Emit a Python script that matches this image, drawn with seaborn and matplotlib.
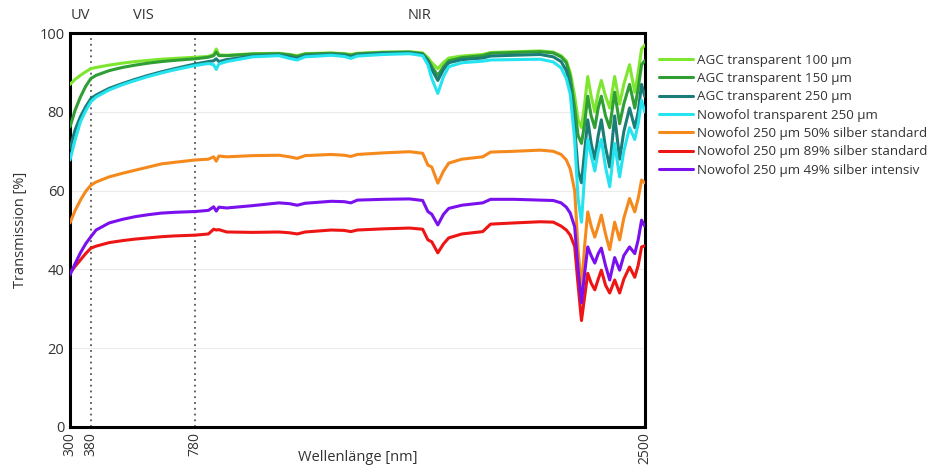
import numpy as np
import pandas as pd
import matplotlib
matplotlib.use("Agg")
import matplotlib.pyplot as plt
import seaborn as sns

# Wavelength grid [nm]
wavelength = [300, 320, 340, 360, 380, 400, 450, 500, 550, 600, 650, 700, 780, 830, 850,
              860, 870, 900, 1000, 1100, 1140, 1170, 1200, 1300, 1350, 1375, 1400, 1500, 1600, 1650,
              1670, 1685, 1708, 1730, 1750, 1800, 1880, 1910, 2000, 2100, 2150, 2180, 2200, 2215, 2232,
              2245, 2258, 2270, 2282, 2295, 2309, 2322, 2334, 2350, 2366, 2385, 2404, 2420, 2442, 2462,
              2475, 2488, 2500]

agc_100 = [87.0, 88.3, 89.3, 90.2, 91.0, 91.3, 91.9, 92.4, 92.8, 93.1, 93.4, 93.6, 93.9, 94.1, 94.6,
           96.0, 94.5, 94.4, 94.8, 94.9, 94.6, 94.3, 94.8, 95.0, 94.8, 94.6, 94.9, 95.2, 95.3, 95.0,
           93.8, 92.5, 91.0, 92.6, 93.7, 94.2, 94.6, 95.1, 95.3, 95.5, 95.2, 94.3, 93.0, 90.0, 84.0,
           78.0, 76.0, 82.0, 89.0, 84.0, 80.0, 85.0, 88.0, 84.0, 81.0, 89.0, 82.0, 87.0, 92.0, 85.0,
           90.0, 96.0, 97.0]

agc_150 = [76.2, 80.5, 83.8, 86.5, 88.5, 89.3, 90.5, 91.3, 91.9, 92.4, 92.8, 93.1, 93.5, 93.9, 94.3,
           95.2, 94.3, 94.3, 94.7, 94.8, 94.5, 94.1, 94.7, 94.9, 94.7, 94.4, 94.8, 95.1, 95.2, 94.8,
           93.2, 91.5, 89.3, 91.5, 93.0, 93.8, 94.3, 94.9, 95.1, 95.3, 95.0, 94.0, 92.5, 89.0, 81.0,
           74.0, 72.0, 77.0, 84.0, 79.0, 76.0, 81.0, 84.0, 79.0, 76.0, 85.0, 77.0, 82.0, 87.0, 81.0,
           86.0, 92.0, 93.0]

agc_250 = [70.8, 75.5, 78.8, 81.3, 83.4, 84.3, 86.0, 87.2, 88.3, 89.3, 90.2, 91.0, 92.2, 92.8, 93.0,
           93.5, 92.8, 93.3, 94.2, 94.5, 94.0, 93.6, 94.3, 94.6, 94.4, 94.0, 94.5, 94.9, 95.0, 94.6,
           93.0, 90.8, 88.0, 90.8, 92.5, 93.3, 93.7, 94.2, 94.4, 94.6, 94.0, 92.8, 90.5, 86.5, 76.0,
           65.0, 62.0, 70.0, 78.0, 72.0, 68.0, 74.0, 78.0, 71.0, 66.0, 79.0, 68.0, 75.0, 81.0, 76.0,
           80.0, 87.0, 84.0]

nowofol_transparent = [67.8, 73.0, 77.5, 80.3, 82.6, 83.8, 85.6, 86.9, 88.0, 89.0, 89.9, 90.7, 91.8, 92.3, 92.0,
                       90.8, 92.2, 92.8, 94.0, 94.3, 93.6, 93.2, 94.0, 94.4, 94.1, 93.6, 94.2, 94.6, 94.8, 94.3,
                       92.0, 88.5, 84.7, 89.0, 91.5, 92.5, 92.9, 93.2, 93.3, 93.4, 92.7, 91.2, 88.5, 84.5, 72.8,
                       58.0, 52.0, 64.0, 73.0, 69.0, 65.0, 70.0, 73.0, 66.0, 61.0, 72.0, 63.5, 70.0, 76.0, 73.0,
                       77.0, 83.0, 80.0]

silber_50_std = [51.8, 55.0, 57.6, 59.8, 61.4, 62.2, 63.5, 64.4, 65.2, 66.0, 66.8, 67.2, 67.8, 68.0, 68.6,
                 67.5, 68.8, 68.6, 68.9, 69.0, 68.6, 68.2, 68.9, 69.2, 69.0, 68.7, 69.2, 69.6, 69.9, 69.5,
                 66.5, 66.0, 61.9, 65.0, 67.0, 68.0, 68.6, 69.8, 70.0, 70.3, 70.0, 69.2, 67.8, 65.5, 60.0,
                 45.0, 35.0, 46.0, 54.6, 51.0, 48.2, 51.0, 53.8, 49.0, 45.0, 52.0, 47.5, 53.0, 58.0, 54.6,
                 58.0, 62.7, 62.0]

silber_89_std = [39.1, 40.8, 42.4, 44.0, 45.4, 45.9, 46.8, 47.3, 47.7, 48.0, 48.3, 48.5, 48.7, 49.0, 50.2,
                 50.0, 50.1, 49.5, 49.4, 49.5, 49.3, 49.0, 49.5, 50.0, 49.9, 49.6, 50.0, 50.3, 50.5, 50.2,
                 47.5, 47.0, 44.2, 46.5, 48.0, 49.0, 49.6, 51.5, 51.8, 52.1, 52.0, 51.0, 50.0, 48.7, 45.8,
                 36.0, 27.0, 33.0, 39.0, 36.5, 34.8, 37.5, 39.8, 36.0, 34.0, 37.3, 34.0, 37.5, 40.6, 38.0,
                 41.0, 45.7, 46.0]

silber_49_int = [38.6, 41.5, 44.2, 46.5, 48.3, 50.0, 51.8, 52.7, 53.4, 53.9, 54.3, 54.5, 54.7, 55.0, 55.9,
                 54.8, 55.8, 55.6, 56.2, 56.9, 56.7, 56.3, 56.8, 57.3, 57.2, 56.9, 57.6, 57.8, 57.9, 57.5,
                 54.7, 54.0, 51.3, 54.0, 55.5, 56.3, 56.9, 57.8, 57.8, 57.6, 57.5, 56.9, 55.8, 54.3, 50.8,
                 40.0, 31.5, 39.0, 45.7, 43.5, 41.6, 44.0, 45.4, 41.0, 37.3, 43.0, 39.8, 43.5, 45.7, 44.0,
                 47.5, 52.5, 51.0]

series_names = ["AGC transparent 100 µm", "AGC transparent 150 µm", "AGC transparent 250 µm",
                "Nowofol transparent 250 µm", "Nowofol 250 µm 50% silber standard",
                "Nowofol 250 µm 89% silber standard", "Nowofol 250 µm 49% silber intensiv"]
series_values = [agc_100, agc_150, agc_250, nowofol_transparent,
                 silber_50_std, silber_89_std, silber_49_int]
colors = ["#7ee62e", "#2f9e35", "#1b7d78", "#25e3ef", "#f5891c", "#ee1515", "#7a10ee"]

x_ticks = [300, 380, 780, 2500]
y_ticks = [0, 20, 40, 60, 80, 100]
region_labels = ["UV", "VIS", "NIR"]
region_pos = [340, 580, 1640]
region_bounds = [380, 780]

frames = [pd.DataFrame({"Wellenlänge": wavelength, "Transmission": v, "Probe": n})
          for n, v in zip(series_names, series_values)]
df = pd.concat(frames, ignore_index=True)

sns.set_style("white")
plt.rcParams["font.family"] = ["Open Sans", "DejaVu Sans"]

fig = plt.figure(figsize=(9.33, 4.68), dpi=100)
ax = fig.add_axes([0.075, 0.088, 0.616, 0.841])

for yv in y_ticks[1:-1]:
    ax.axhline(yv, color="#ebebeb", lw=0.8, zorder=0)
for xv in region_bounds:
    ax.axvline(xv, color="#555555", lw=1.3, ls=(0, (1, 2.2)), zorder=1)

sns.lineplot(data=df, x="Wellenlänge", y="Transmission", hue="Probe",
             hue_order=series_names, palette=colors, linewidth=2.2,
             sort=False, ax=ax, zorder=3)

ax.set_xlim(300, 2500)
ax.set_ylim(0, 100)
ax.set_xticks(x_ticks)
ax.set_xticklabels([str(t) for t in x_ticks], rotation=90, fontsize=10, color="#333333")
ax.set_yticks(y_ticks)
ax.set_yticklabels([str(t) for t in y_ticks], fontsize=10.5, color="#333333")
ax.tick_params(axis="both", length=0, pad=4)
ax.set_xlabel("Wellenlänge [nm]", fontsize=10.5, color="#333333")
ax.set_ylabel("Transmission [%]", fontsize=10.5, color="#333333", labelpad=8)
ax.xaxis.set_label_coords(0.5, -0.06)

for sp in ax.spines.values():
    sp.set_visible(True)
    sp.set_color("black")
    sp.set_linewidth(2.2)

for lbl, xp in zip(region_labels, region_pos):
    ax.text(xp, 102.5, lbl, ha="center", va="bottom", fontsize=10.5, color="#333333")

leg = ax.legend(loc="upper left", bbox_to_anchor=(1.015, 0.962), frameon=False,
                fontsize=9.6, handlelength=2.6, handletextpad=0.3, labelspacing=0.4,
                borderaxespad=0)
for t in leg.get_texts():
    t.set_color("#333333")

fig.savefig("out.png", dpi=100)
